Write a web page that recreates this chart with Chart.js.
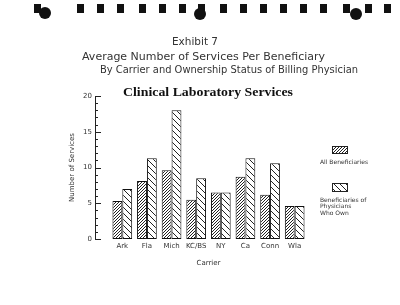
<!DOCTYPE html>
<html>
<head>
<meta charset="utf-8">
<script src="https://cdn.jsdelivr.net/npm/chart.js@4"></script>
<style>
  html, body { margin: 0; padding: 0; background: #fff; }
  #wrap { position: relative; width: 400px; height: 305px; }
  canvas { position: absolute; left: 0; top: 0; }
  .sq { position: absolute; top: 4px; width: 7px; height: 9px; background: #111; }
  .hole { position: absolute; width: 12px; height: 12px; border-radius: 50%; background: #111; }
</style>
</head>
<body>
<div id="wrap">
  <canvas id="grafico" width="400" height="305"></canvas>
</div>
<script>
// datos
const carriers = ['Ark', 'Fla', 'Mich', 'KC/BS', 'NY', 'Ca', 'Conn', 'Wla'];
const todos = [5.3, 8.1, 9.6, 5.5, 6.5, 8.7, 6.2, 4.6];
const duenos = [7.0, 11.3, 18.0, 8.5, 6.5, 11.3, 10.6, 4.6];
const ticksY = [0, 5, 10, 15, 20];
const nombreTodos = ['All Beneficiaries'];
const nombreDuenos = ['Beneficiaries of', 'Physicians', 'Who Own'];

// adorno del espiral arriba
const wrap = document.getElementById('wrap');
[34, 77, 97, 117, 139, 159, 179, 198, 220, 240, 260, 280, 300, 320, 343, 365, 384].forEach(x => {
  const d = document.createElement('div');
  d.className = 'sq';
  d.style.left = x + 'px';
  wrap.appendChild(d);
});
[[39, 7], [194, 8], [350, 8]].forEach(p => {
  const d = document.createElement('div');
  d.className = 'hole';
  d.style.left = p[0] + 'px';
  d.style.top = p[1] + 'px';
  wrap.appendChild(d);
});

// rayado de las barras
function rayado(size, dir) {
  const c = document.createElement('canvas');
  c.width = size; c.height = size;
  const g = c.getContext('2d');
  g.fillStyle = '#fff';
  g.fillRect(0, 0, size, size);
  g.fillStyle = '#222';
  for (let i = 0; i < size; i++) {
    const y = dir === '/' ? size - 1 - i : i;
    g.fillRect(i, y, 1, 1);
  }
  return g.createPattern(c, 'repeat');
}
const patTodos = rayado(3, '/');
const patDuenos = rayado(6, '\\');

function textoAjustado(ctx, txt, x1, x2, base, font) {
  ctx.save();
  ctx.font = font;
  const w = ctx.measureText(txt).width;
  ctx.translate(x1, base);
  ctx.scale((x2 - x1) / w, 1);
  ctx.textAlign = 'left';
  ctx.textBaseline = 'alphabetic';
  ctx.fillText(txt, 0, 0);
  ctx.restore();
}

const extras = {
  id: 'extras',
  afterDraw(chart) {
    const ctx = chart.ctx;
    const a = chart.chartArea;
    const y = chart.scales.y;

    // encabezado
    ctx.fillStyle = '#333';
    textoAjustado(ctx, 'Exhibit 7', 172, 218, 45, '10px "DejaVu Sans"');
    textoAjustado(ctx, 'Average Number of Services Per Beneficiary', 82, 325, 60, '10px "DejaVu Sans"');
    textoAjustado(ctx, 'By Carrier and Ownership Status of Billing Physician', 100, 358, 73, '10px "DejaVu Sans"');

    ctx.fillStyle = '#111';
    textoAjustado(ctx, 'Clinical Laboratory Services', 123, 293, a.top, 'bold 13px "Liberation Serif"');

    // eje y con marcas hacia adentro
    const ax = a.left - 15;
    ctx.save();
    ctx.strokeStyle = '#222';
    ctx.lineWidth = 1;
    ctx.beginPath();
    ctx.moveTo(ax + 0.5, y.getPixelForValue(0));
    ctx.lineTo(ax + 0.5, y.getPixelForValue(20));
    for (let v = 0; v <= 20; v++) {
      const py = Math.round(y.getPixelForValue(v)) + 0.5;
      ctx.moveTo(ax, py);
      ctx.lineTo(ax + (v % 5 === 0 ? 6 : 3), py);
    }
    ctx.stroke();

    // leyenda
    const lx = a.right + 25;
    ctx.fillStyle = patTodos;
    ctx.fillRect(lx, 146, 16, 8);
    ctx.strokeRect(lx + 0.5, 146.5, 15, 7);
    ctx.fillStyle = patDuenos;
    ctx.fillRect(lx, 183, 16, 9);
    ctx.strokeRect(lx + 0.5, 183.5, 15, 8);
    ctx.fillStyle = '#333';
    ctx.font = '6px "DejaVu Sans"';
    ctx.textAlign = 'left';
    ctx.textBaseline = 'middle';
    nombreTodos.forEach((t, i) => ctx.fillText(t, lx - 12, 162 + i * 6.5));
    nombreDuenos.forEach((t, i) => ctx.fillText(t, lx - 12, 200 + i * 6.5));
    ctx.restore();
  }
};

Chart.defaults.font.family = '"DejaVu Sans"';
Chart.defaults.color = '#333';

new Chart(document.getElementById('grafico'), {
  type: 'bar',
  data: {
    labels: carriers,
    datasets: [{
      label: nombreTodos.join(' '),
      data: todos,
      backgroundColor: patTodos,
      borderColor: '#111',
      borderWidth: 1,
      borderSkipped: false
    }, {
      label: nombreDuenos.join(' '),
      data: duenos,
      backgroundColor: patDuenos,
      borderColor: '#111',
      borderWidth: 1,
      borderSkipped: false
    }]
  },
  options: {
    responsive: false,
    animation: false,
    layout: { padding: { top: 96, right: 93, bottom: 36, left: 60 } },
    plugins: {
      legend: { display: false },
      tooltip: { enabled: false }
    },
    datasets: { bar: { categoryPercentage: 0.8, barPercentage: 1 } },
    scales: {
      x: {
        grid: { display: false, drawTicks: false },
        border: { display: false },
        ticks: { font: { size: 7 }, padding: 3, maxRotation: 0, minRotation: 0, autoSkip: false },
        title: { display: true, text: 'Carrier', font: { size: 7 }, padding: { top: 0, bottom: 2 } },
        afterFit: s => { s.height = 30; }
      },
      y: {
        min: 0,
        max: 20,
        grid: { display: false, drawTicks: false },
        border: { display: false },
        afterBuildTicks: s => { s.ticks = ticksY.map(v => ({ value: v })); },
        ticks: { font: { size: 7 }, padding: 18 },
        title: { display: true, text: 'Number of Services', font: { size: 7 }, padding: { top: 8, bottom: 0 } },
        afterFit: s => { s.width = 50; }
      }
    }
  },
  plugins: [extras]
});
</script>
</body>
</html>
